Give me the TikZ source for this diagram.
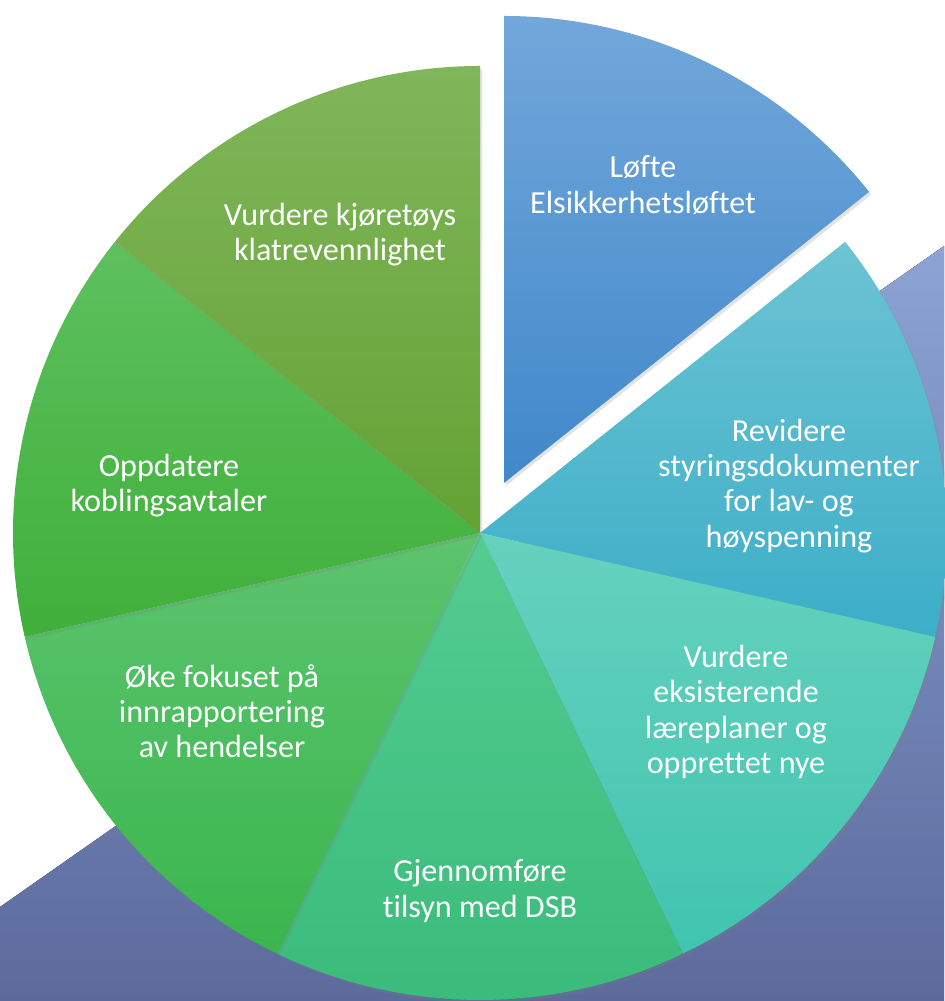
\documentclass[tikz,border=0pt]{standalone}
\usepackage{fontspec}
\setmainfont{Carlito}[Ligatures=NoCommon]
\usepackage{tikz}
\usetikzlibrary{shadows}
\definecolor{bakgrA}{RGB}{140, 163, 212}
\definecolor{bakgrB}{RGB}{92, 106, 156}
\definecolor{blaaA}{RGB}{114, 167, 218}
\definecolor{blaaB}{RGB}{64, 136, 202}
\definecolor{cyanA}{RGB}{108, 195, 211}
\definecolor{cyanB}{RGB}{60, 174, 200}
\definecolor{turkisA}{RGB}{102, 210, 190}
\definecolor{turkisB}{RGB}{64, 196, 176}
\definecolor{mintA}{RGB}{84, 204, 146}
\definecolor{mintB}{RGB}{57, 187, 122}
\definecolor{grA}{RGB}{92, 196, 110}
\definecolor{grB}{RGB}{58, 182, 78}
\definecolor{gronnA}{RGB}{94, 192, 94}
\definecolor{gronnB}{RGB}{63, 176, 58}
\definecolor{olivenA}{RGB}{128, 182, 90}
\definecolor{olivenB}{RGB}{100, 162, 52}
\tikzset{
    slice/.style={drop shadow={shadow xshift=1.2pt, shadow yshift=-1.6pt, opacity=0.22}},
    lbl/.style={text=white, align=center, inner sep=0pt, font=\fontsize{18.3}{20}\selectfont},
}

\begin{document}
\begin{tikzpicture}[x=0.02cm, y=0.02cm]
    \useasboundingbox (0,0) rectangle (944,1001);
    \fill[white] (0,0) rectangle (944,1001);

    \fill[top color=bakgrA, bottom color=bakgrB] (0,94) -- (944,755) -- (944,0) -- (0,0) -- cycle;

    \coordinate (c) at (480,468);
    \coordinate (ce) at (504,518);

    \path[slice, top color=cyanA, bottom color=cyanB] (c) -- ++(38.571:467)
        arc[start angle=38.571, end angle=-12.857, radius=467] -- cycle;
    \path[slice, top color=turkisA, bottom color=turkisB] (c) -- ++(-12.857:467)
        arc[start angle=-12.857, end angle=-64.286, radius=467] -- cycle;
    \path[slice, top color=mintA, bottom color=mintB] (c) -- ++(-64.286:467)
        arc[start angle=-64.286, end angle=-115.714, radius=467] -- cycle;
    \path[slice, top color=grA, bottom color=grB] (c) -- ++(-115.714:467)
        arc[start angle=-115.714, end angle=-167.143, radius=467] -- cycle;
    \path[slice, top color=gronnA, bottom color=gronnB] (c) -- ++(192.857:467)
        arc[start angle=192.857, end angle=141.429, radius=467] -- cycle;
    \path[slice, top color=olivenA, bottom color=olivenB] (c) -- ++(141.429:467)
        arc[start angle=141.429, end angle=90, radius=467] -- cycle;
    \path[slice, top color=blaaA, bottom color=blaaB] (ce) -- ++(90:467)
        arc[start angle=90, end angle=38.571, radius=467] -- cycle;

    \node[lbl] (lofte) at (643,816) {Løfte\\Elsikkerhetsløftet};
    \node[lbl] (revidere) at (789,515) {Revidere\\styringsdokumenter\\for lav- og\\høyspenning};
    \node[lbl] (laereplan) at (736,289) {Vurdere\\eksisterende\\læreplaner og\\opprettet nye};
    \node[lbl] (tilsyn) at (480,110) {Gjennomføre\\tilsyn med DSB};
    \node[lbl] (hendelser) at (222,290) {Øke fokuset på\\innrapportering\\av hendelser};
    \node[lbl] (kobling) at (169,515) {Oppdatere\\koblingsavtaler};
    \node[lbl] (klatre) at (340,766) {Vurdere kjøretøys\\klatrevennlighet};
\end{tikzpicture}
\end{document}
